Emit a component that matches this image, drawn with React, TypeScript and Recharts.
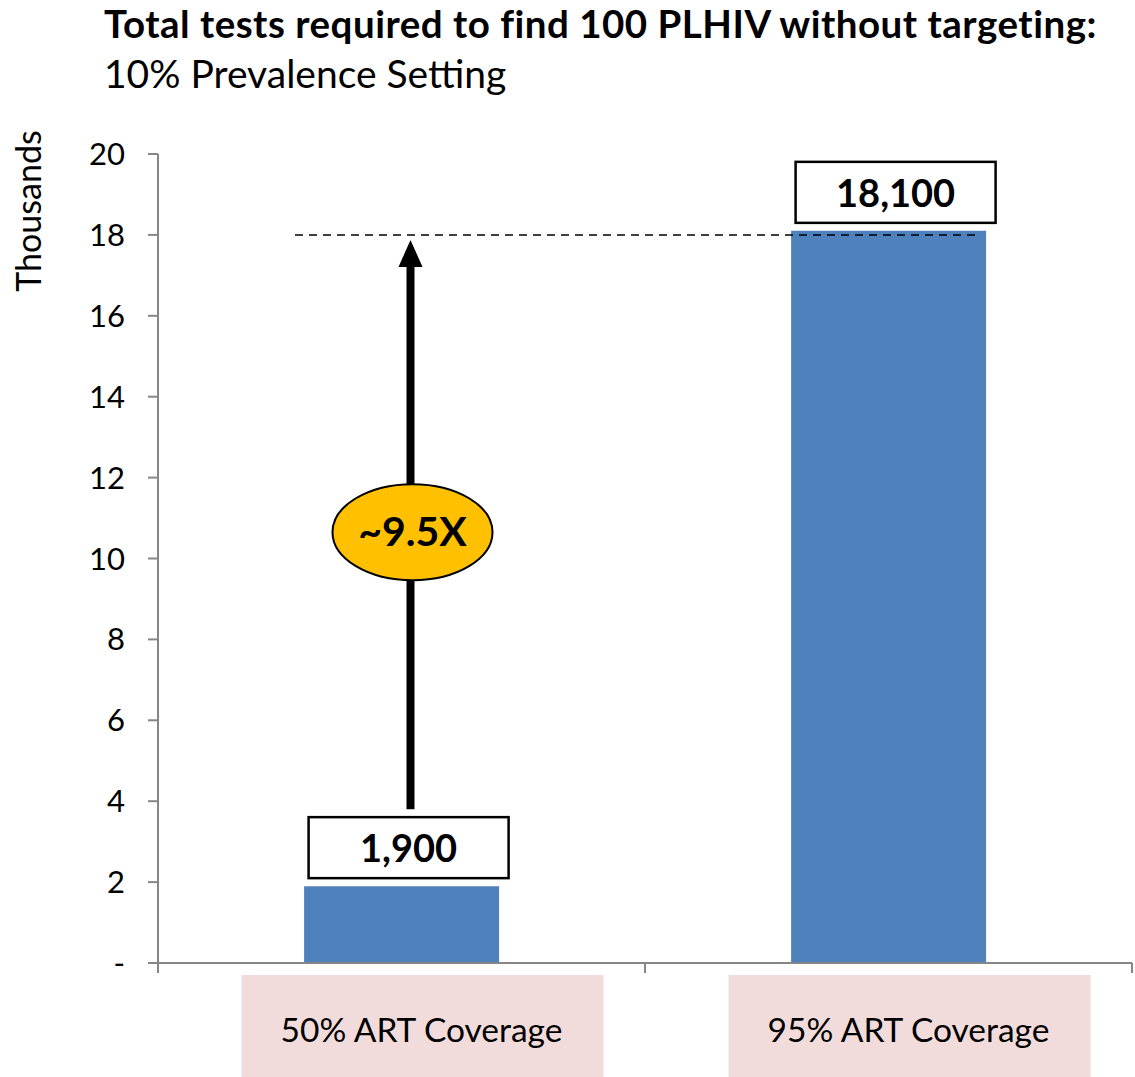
import React from 'react';
import { BarChart, Bar, XAxis, YAxis, ReferenceLine, ReferenceDot, LabelList, Label } from 'recharts';

// categories and values (tests needed to find 100 PLHIV)
const categorias = ['50% ART Coverage', '95% ART Coverage'];
const testes = [1900, 18100];
const ticksY = [0, 2000, 4000, 6000, 8000, 10000, 12000, 14000, 16000, 18000, 20000];
const alvoTracejado = 18000;
const setaInicio = 3800;
const multiplicador = '~9.5X';
const posicaoElipse = 10650;

const dados = categorias.map((nome, i) => ({ nome, valor: testes[i] }));

const FONTE = 'Lato, "Open Sans", sans-serif';

const EixoX = (props: any) => {
  const { x, y, payload } = props;
  const eixo = y - 8;
  return (
    <g>
      <line x1={x - 243.5} y1={eixo} x2={x - 243.5} y2={eixo + 10} stroke="#868686" strokeWidth={2} />
      <line x1={x + 243.5} y1={eixo} x2={x + 243.5} y2={eixo + 10} stroke="#868686" strokeWidth={2} />
      <rect x={x - 160} y={eixo + 12} width={362} height={102} fill="#F2DCDB" />
      <text x={x + 20} y={eixo + 79} textAnchor="middle" fontFamily={FONTE} fontSize={33.5} fill="#000">
        {payload.value}
      </text>
    </g>
  );
};

const RotuloValor = (props: any) => {
  const { x, y, width, value } = props;
  const cx = x + width / 2 + 7;
  return (
    <g>
      <rect x={cx - 100} y={y - 69} width={200} height={61} fill="#fff" stroke="#000" strokeWidth={2.5} />
      <text x={cx} y={y - 24} textAnchor="middle" fontFamily={FONTE} fontWeight="bold" fontSize={38} fill="#000">
        {Number(value).toLocaleString('en-US')}
      </text>
    </g>
  );
};

const Seta = (props: any) => {
  const { x1, y1, y2 } = props;
  const x = x1 + 9;
  const topo = Math.min(y1, y2);
  const base = Math.max(y1, y2);
  return (
    <g>
      <line x1={x} y1={base} x2={x} y2={topo + 26} stroke="#000" strokeWidth={8} />
      <polygon points={`${x},${topo + 5} ${x - 12},${topo + 32} ${x + 12},${topo + 32}`} fill="#000" />
    </g>
  );
};

const LinhaTracejada = (props: any) => {
  const { x1, x2, y1 } = props;
  return <line x1={x1 + 137} y1={y1} x2={x2 - 152} y2={y1} stroke="#000" strokeWidth={1.5} strokeDasharray="8 6" />;
};

const Elipse = (props: any) => {
  const { cx, cy } = props;
  const ex = cx + 11;
  return (
    <g>
      <ellipse cx={ex} cy={cy} rx={80} ry={48} fill="#FFC000" stroke="#000" strokeWidth={2} />
      <text x={ex} y={cy + 14} textAnchor="middle" fontFamily={FONTE} fontWeight="bold" fontSize={41} fill="#000">
        {multiplicador}
      </text>
    </g>
  );
};

export default function App() {
  return (
    <div style={{ position: 'absolute', left: 0, top: 0, width: 1135, height: 1077, background: '#fff', fontFamily: FONTE }}>
      <div style={{ position: 'absolute', left: 104, top: 0, fontSize: 38.5, letterSpacing: 0.5, fontWeight: 'bold', whiteSpace: 'nowrap', color: '#000' }}>
        Total tests required to find 100 PLHIV without targeting:
      </div>
      <div style={{ position: 'absolute', left: 104, top: 50, fontSize: 39, whiteSpace: 'nowrap', color: '#000' }}>
        10% Prevalence Setting
      </div>
      <BarChart
        width={1135}
        height={1077}
        data={dados}
        margin={{ top: 154, right: 3, bottom: 0, left: 0 }}
        barCategoryGap="30%"
      >
        <XAxis
          dataKey="nome"
          axisLine={{ stroke: '#868686', strokeWidth: 2 }}
          tickLine={false}
          tick={<EixoX />}
          interval={0}
          height={114}
        />
        <YAxis
          domain={[0, 20000]}
          ticks={ticksY}
          interval={0}
          width={158}
          axisLine={{ stroke: '#868686', strokeWidth: 2 }}
          tickLine={{ stroke: '#868686', strokeWidth: 2 }}
          tickSize={10}
          tickMargin={23}
          tick={{ fill: '#000', fontSize: 31, fontFamily: FONTE }}
          tickFormatter={(v: number) => (v === 0 ? '-' : String(v / 1000))}
        >
          <Label
            content={() => (
              <text x={41} y={211} transform="rotate(-90 41 211)" textAnchor="middle" fontFamily={FONTE} fontSize={34} fill="#000">
                Thousands
              </text>
            )}
          />
        </YAxis>
        <Bar dataKey="valor" fill="#4F81BD" isAnimationActive={false}>
          <LabelList dataKey="valor" content={<RotuloValor />} />
        </Bar>
        <ReferenceLine y={alvoTracejado} shape={<LinhaTracejada />} />
        <ReferenceLine
          segment={[
            { x: categorias[0], y: setaInicio },
            { x: categorias[0], y: alvoTracejado },
          ]}
          shape={<Seta />}
        />
        <ReferenceDot x={categorias[0]} y={posicaoElipse} shape={<Elipse />} />
      </BarChart>
    </div>
  );
}
